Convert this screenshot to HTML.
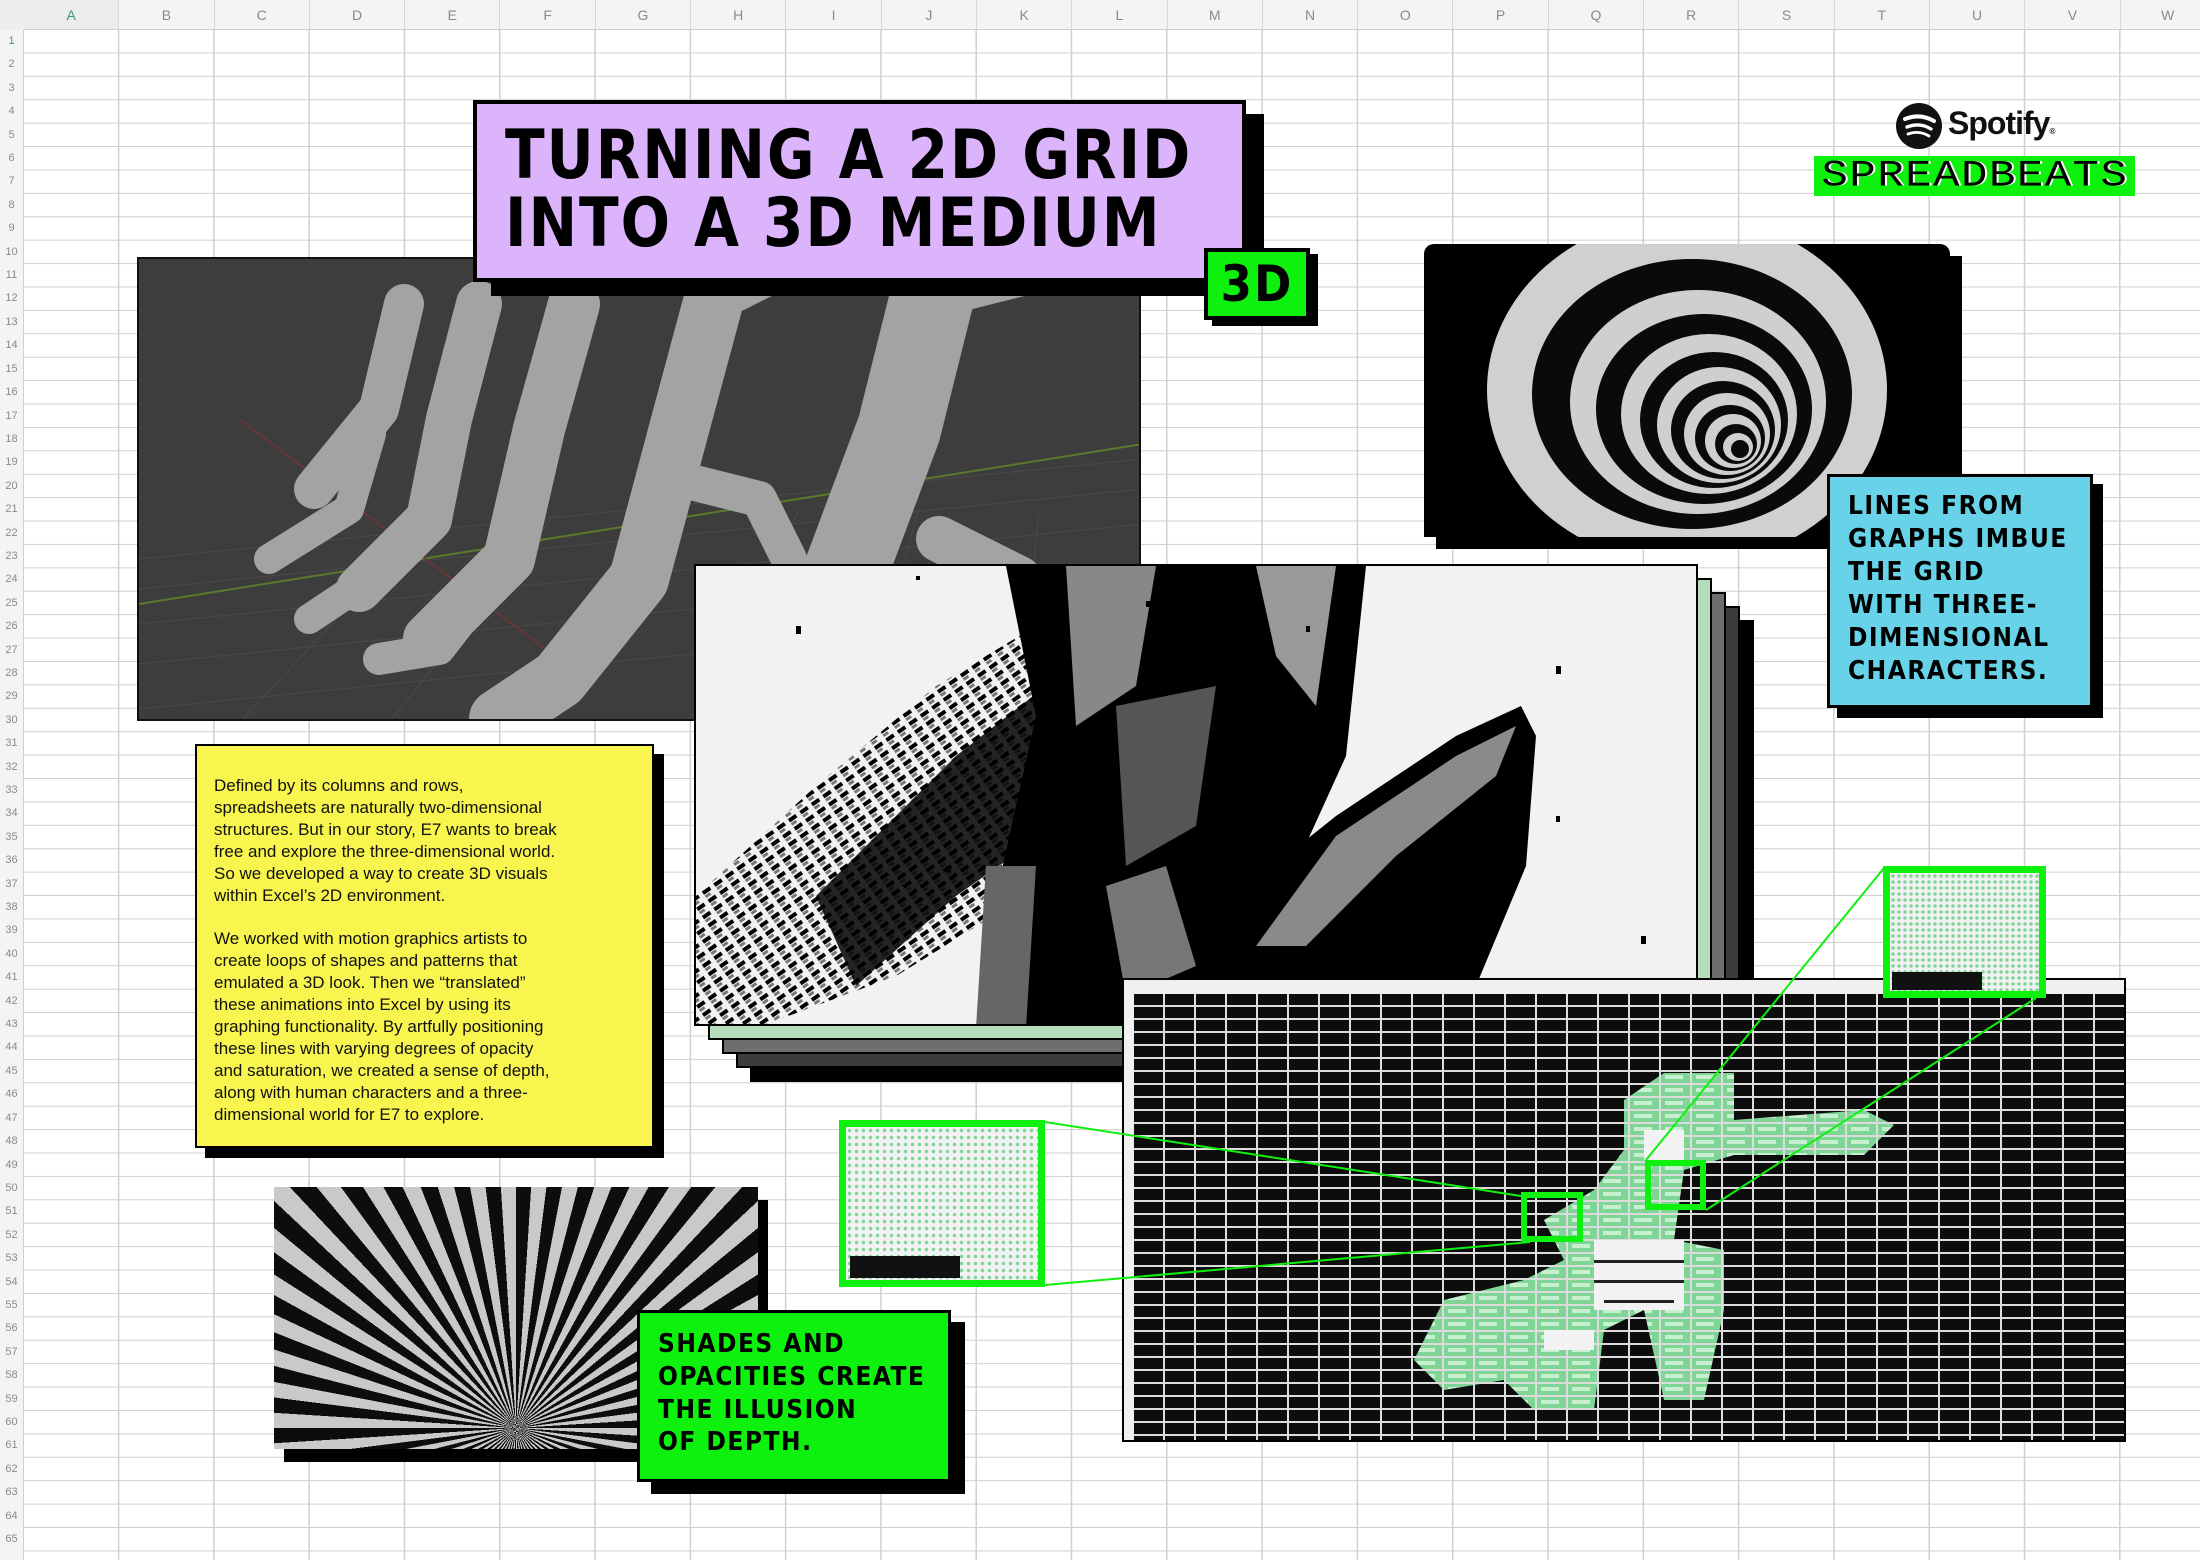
<!DOCTYPE html>
<html><head><meta charset="utf-8">
<style>
*{margin:0;padding:0;box-sizing:border-box}
body{width:2200px;height:1560px;position:relative;overflow:hidden;background:#fff;font-family:"Liberation Sans",sans-serif}
.grid{position:absolute;left:24px;top:30px;width:2176px;height:1530px;
background-image:linear-gradient(to right,transparent 94px,#cfcfcf 94px,#cfcfcf 95.3px),linear-gradient(to bottom,transparent 22.2px,#cfcfcf 22.2px,#cfcfcf 23.41px);
background-size:95.3px 23.41px}
.colhdr{position:absolute;left:0;top:0;width:2200px;height:30px;background:#f4f4f4;border-bottom:1px solid #cfcfcf;display:flex;padding-left:24px}
.colhdr span{width:95.3px;flex:none;text-align:center;font-size:14px;line-height:30px;color:#8a8a8a;border-right:1px solid #d8d8d8}
.rowhdr{position:absolute;left:0;top:30px;width:24px;height:1530px;background:#f4f4f4;border-right:1px solid #cfcfcf;font-size:11px;line-height:23.41px;color:#8a8a8a;text-align:center}
.corner{position:absolute;left:0;top:0;width:24px;height:30px;background:#eee}
.abs{position:absolute}
.pix{font-family:"DejaVu Sans Condensed","DejaVu Sans",sans-serif;font-weight:bold;color:#000}
</style></head><body>
<div class="grid"></div>
<div class="colhdr"><span style="color:#3a9a6a;background:#ececec">A</span><span>B</span><span>C</span><span>D</span><span>E</span><span>F</span><span>G</span><span>H</span><span>I</span><span>J</span><span>K</span><span>L</span><span>M</span><span>N</span><span>O</span><span>P</span><span>Q</span><span>R</span><span>S</span><span>T</span><span>U</span><span>V</span><span>W</span></div>
<div class="corner"></div>
<div class="rowhdr"><span style="color:#3a9a6a">1</span><br>2<br>3<br>4<br>5<br>6<br>7<br>8<br>9<br>10<br>11<br>12<br>13<br>14<br>15<br>16<br>17<br>18<br>19<br>20<br>21<br>22<br>23<br>24<br>25<br>26<br>27<br>28<br>29<br>30<br>31<br>32<br>33<br>34<br>35<br>36<br>37<br>38<br>39<br>40<br>41<br>42<br>43<br>44<br>45<br>46<br>47<br>48<br>49<br>50<br>51<br>52<br>53<br>54<br>55<br>56<br>57<br>58<br>59<br>60<br>61<br>62<br>63<br>64<br>65</div>

<!-- 3D render -->
<div class="abs" style="left:137px;top:257px;width:1004px;height:464px;background:#3d3d3d;border:2px solid #111;overflow:hidden">
<svg width="1004" height="464" viewBox="0 0 1004 464">
<g stroke="#4a4a4a" stroke-width="1">
<path d="M0 300 L1004 200 M0 330 L1004 230 M0 365 L1004 265 M0 405 L1004 305 M0 450 L1004 350"/>
<path d="M100 464 L300 250 M250 464 L420 250 M400 464 L540 250 M560 464 L660 250 M720 464 L780 250 M880 464 L900 250"/>
</g>
<line x1="0" y1="345" x2="1004" y2="185" stroke="#5a7a2a" stroke-width="2"/>
<line x1="100" y1="160" x2="420" y2="400" stroke="#7a3030" stroke-width="1.5"/>
<g stroke="#a3a3a3" stroke-linecap="round" stroke-linejoin="round" fill="none">
<polyline points="265,45 240,150 175,230" stroke-width="40"/>
<polyline points="232,175 210,250 130,300" stroke-width="30"/>
<polyline points="340,45 310,160 290,260 220,330" stroke-width="46"/>
<polyline points="290,260 230,320 170,360" stroke-width="30"/>
<polyline points="435,45 400,170 370,300 290,380" stroke-width="52"/>
<polyline points="370,300 300,390 240,400" stroke-width="32"/>
<polyline points="575,40 540,170 500,320 420,420 360,460" stroke-width="60"/>
<polyline points="540,220 620,240 650,300" stroke-width="36"/>
<polyline points="795,30 760,170 700,330 620,464" stroke-width="84"/>
<polyline points="800,280 880,320 870,420" stroke-width="46"/>
<polyline points="600,40 660,10 700,0" stroke-width="24"/>
<polyline points="820,40 900,20 950,10" stroke-width="26"/>
</g>
</svg></div>

<!-- title -->
<div class="abs" style="left:473px;top:100px;width:773px;height:182px;background:#dcb4fb;border:4px solid #000;box-shadow:18px 14px 0 #000"></div>
<div class="abs pix" style="left:505px;top:122px;font-size:68px;line-height:68px;letter-spacing:2px;white-space:nowrap;transform:scaleX(0.95);transform-origin:0 0">TURNING A 2D GRID<br>INTO A 3D MEDIUM</div>
<div class="abs pix" style="left:1204px;top:248px;width:106px;height:72px;background:#0ef00e;border:4px solid #000;box-shadow:8px 6px 0 #000;font-size:50px;line-height:64px;text-align:center;letter-spacing:2px">3D</div>

<!-- spotify -->
<svg class="abs" style="left:1895px;top:102px" width="48" height="48" viewBox="0 0 48 48"><circle cx="24" cy="24" r="23" fill="#111"/><g stroke="#fff" stroke-linecap="round" fill="none"><path d="M10 17 Q25 11 39 19" stroke-width="4"/><path d="M12 25 Q25 20 36 27" stroke-width="3.4"/><path d="M13 32 Q24 28 34 34" stroke-width="2.8"/></g></svg>
<div class="abs" style="left:1948px;top:105px;font-size:32px;font-weight:bold;letter-spacing:-1px;color:#111">Spotify<span style="font-size:8px">®</span></div>
<div class="abs" style="left:1814px;top:156px;width:321px;height:40px;background:#0ef00e"></div>
<div class="abs" style="left:1818px;top:152px;width:314px;font-family:'Liberation Mono',monospace;font-size:44px;line-height:48px;color:#000;letter-spacing:1.5px;text-align:center;transform:scaleY(0.85);text-shadow:2px 0 0 #fff">SPREADBEATS</div>

<!-- spiral -->
<div class="abs" style="left:1436px;top:256px;width:526px;height:293px;background:#000"></div>
<div class="abs" style="left:1424px;top:244px;width:526px;height:293px;background:#000;overflow:hidden;border-radius:10px 10px 0 0">
<svg width="526" height="293" viewBox="0 0 526 293">
<ellipse cx="263" cy="146" rx="200" ry="175" fill="#d0d0d0"/>
<ellipse cx="268" cy="150" rx="160" ry="135" fill="#0a0a0a"/>
<ellipse cx="274" cy="158" rx="128" ry="112" fill="#cfcfcf"/>
<ellipse cx="280" cy="165" rx="108" ry="95" fill="#0a0a0a"/>
<ellipse cx="285" cy="170" rx="88" ry="80" fill="#cfcfcf"/>
<ellipse cx="290" cy="176" rx="74" ry="68" fill="#0a0a0a"/>
<ellipse cx="295" cy="181" rx="62" ry="58" fill="#cfcfcf"/>
<ellipse cx="299" cy="186" rx="52" ry="49" fill="#0a0a0a"/>
<ellipse cx="303" cy="190" rx="43" ry="41" fill="#cfcfcf"/>
<ellipse cx="306" cy="194" rx="35" ry="33" fill="#0a0a0a"/>
<ellipse cx="309" cy="197" rx="28" ry="27" fill="#cfcfcf"/>
<ellipse cx="312" cy="200" rx="21" ry="20" fill="#0a0a0a"/>
<ellipse cx="314" cy="203" rx="15" ry="14" fill="#cfcfcf"/>
<ellipse cx="316" cy="205" rx="9" ry="9" fill="#0a0a0a"/>
</svg></div>

<!-- cyan box -->
<div class="abs" style="left:1827px;top:474px;width:266px;height:234px;background:#67d2e8;border:3px solid #000;box-shadow:10px 10px 0 #000"></div>
<div class="abs pix" style="left:1848px;top:490px;font-size:26px;line-height:33px;letter-spacing:1.5px;white-space:nowrap">LINES FROM<br>GRAPHS IMBUE<br>THE GRID<br>WITH THREE-<br>DIMENSIONAL<br>CHARACTERS.</div>

<!-- middle stack -->
<div class="abs" style="left:750px;top:620px;width:1004px;height:462px;background:#000"></div>
<div class="abs" style="left:736px;top:606px;width:1004px;height:462px;background:#3c3c3c;border:2px solid #000"></div>
<div class="abs" style="left:722px;top:592px;width:1004px;height:462px;background:#6e6e6e;border:2px solid #000"></div>
<div class="abs" style="left:708px;top:578px;width:1004px;height:462px;background:#b5dcb8;border:2px solid #000"></div>
<div class="abs" style="left:694px;top:564px;width:1004px;height:462px;background:#f2f2f2;border:2px solid #000;overflow:hidden">
<svg width="1004" height="462" viewBox="0 0 1004 462">
<defs><pattern id="hp" width="14" height="10" patternUnits="userSpaceOnUse" patternTransform="rotate(-35)"><rect width="9" height="4" fill="#000"/><rect y="5" width="6" height="3" fill="#777"/></pattern></defs>
<polygon points="0,330 120,220 240,120 340,60 400,200 330,330 200,410 60,462 0,462" fill="url(#hp)"/>
<polygon points="120,330 260,190 350,120 360,260 260,330 160,420" fill="#000" opacity="0.85"/>
<polygon points="310,0 670,0 650,190 600,300 540,462 280,462 300,330 340,150" fill="#000"/>
<polygon points="370,0 460,0 440,120 380,160" fill="#888"/>
<polygon points="420,140 520,120 500,260 430,300" fill="#555"/>
<polygon points="560,0 640,0 620,140 580,90" fill="#999"/>
<polygon points="500,462 540,330 640,250 760,170 825,140 840,170 830,300 780,420 740,462" fill="#000"/>
<polygon points="560,380 640,270 760,190 820,160 800,210 700,290 610,380" fill="#8a8a8a"/>
<polygon points="290,300 340,300 330,462 280,462" fill="#666"/>
<polygon points="410,320 470,300 500,400 430,430" fill="#777"/>
<g fill="#000"><rect x="100" y="60" width="5" height="8"/><rect x="220" y="10" width="4" height="4"/><rect x="250" y="300" width="5" height="6"/><rect x="450" y="35" width="5" height="6"/><rect x="560" y="60" width="4" height="5"/><rect x="860" y="100" width="5" height="8"/><rect x="945" y="370" width="5" height="8"/><rect x="400" y="350" width="4" height="5"/><rect x="860" y="250" width="4" height="6"/><rect x="610" y="60" width="4" height="6"/></g>
</svg></div>

<!-- yellow text -->
<div class="abs" style="left:195px;top:744px;width:459px;height:404px;background:#f8f54e;border:2px solid #000;box-shadow:10px 10px 0 #000"></div>
<div class="abs" style="left:214px;top:775px;font-size:17px;line-height:21.9px;color:#111;white-space:nowrap">Defined by its columns and rows,<br>spreadsheets are naturally two-dimensional<br>structures. But in our story, E7 wants to break<br>free and explore the three-dimensional world.<br>So we developed a way to create 3D visuals<br>within Excel’s 2D environment.<br><br>We worked with motion graphics artists to<br>create loops of shapes and patterns that<br>emulated a 3D look. Then we “translated”<br>these animations into Excel by using its<br>graphing functionality. By artfully positioning<br>these lines with varying degrees of opacity<br>and saturation, we created a sense of depth,<br>along with human characters and a three-<br>dimensional world for E7 to explore.</div>

<!-- tunnel -->
<div class="abs" style="left:284px;top:1200px;width:484px;height:262px;background:#000"></div>
<div class="abs" style="left:274px;top:1187px;width:484px;height:262px;background:repeating-conic-gradient(from 0deg at 50% 92%,#0d0d0d 0deg 3.6deg,#c9c9c9 3.6deg 7.2deg)"></div>

<!-- green box -->
<div class="abs" style="left:637px;top:1310px;width:314px;height:172px;background:#0ef00e;border:3px solid #000;box-shadow:14px 12px 0 #000"></div>
<div class="abs pix" style="left:658px;top:1328px;font-size:26px;line-height:32.8px;letter-spacing:1.5px;white-space:nowrap">SHADES AND<br>OPACITIES CREATE<br>THE ILLUSION<br>OF DEPTH.</div>

<!-- right spreadsheet -->
<div class="abs" style="left:1122px;top:978px;width:1004px;height:464px;background:#f0f0f0;border:2px solid #000;overflow:hidden">
<div class="abs" style="left:10px;top:14px;width:990px;height:446px;background-color:#0d0d0d;background-image:linear-gradient(to right,transparent 29px,#dcdcdc 29px),linear-gradient(to bottom,transparent 11px,#dcdcdc 11px);background-size:31px 13px"></div>
<svg class="abs" style="left:0;top:0" width="1004" height="464" viewBox="0 0 1004 464">
<defs><pattern id="gp" width="31" height="13" patternUnits="userSpaceOnUse" x="10" y="14"><rect width="29" height="11" fill="#7fd596"/><rect x="4" y="3" width="18" height="4" fill="#c9efd1"/></pattern></defs>
<g fill="url(#gp)">
<polygon points="540,93 610,93 610,140 740,130 770,145 740,175 610,175 560,190 550,260 600,270 600,330 580,420 540,420 520,330 480,350 470,430 410,430 380,400 320,410 290,380 320,320 400,300 440,280 420,240 470,210 500,170 500,120"/>
</g>
<g fill="#f2f2f2"><rect x="470" y="260" width="90" height="70"/><rect x="520" y="150" width="40" height="30"/><rect x="420" y="350" width="50" height="20"/></g>
<g fill="#222"><rect x="470" y="280" width="90" height="3"/><rect x="470" y="300" width="90" height="3"/><rect x="480" y="320" width="70" height="3"/></g>
</svg></div>

<!-- insets -->
<div class="abs" style="left:839px;top:1120px;width:206px;height:167px;border:7px solid #0ef00e;background:#f2f2f2;background-image:radial-gradient(circle,#7fd596 1.5px,transparent 2px);background-size:7px 7px"></div>
<div class="abs" style="left:850px;top:1256px;width:110px;height:22px;background:#111"></div>
<div class="abs" style="left:1883px;top:866px;width:163px;height:132px;border:7px solid #0ef00e;background:#f2f2f2;background-image:radial-gradient(circle,#7fd596 1.5px,transparent 2px);background-size:6px 6px"></div>
<div class="abs" style="left:1892px;top:972px;width:90px;height:18px;background:#111"></div>
<div class="abs" style="left:1521px;top:1192px;width:62px;height:50px;border:6px solid #0ef00e"></div>
<div class="abs" style="left:1645px;top:1160px;width:61px;height:50px;border:6px solid #0ef00e"></div>
<svg class="abs" style="left:0;top:0" width="2200" height="1560"><g stroke="#0ef00e" stroke-width="2"><line x1="1045" y1="1122" x2="1521" y2="1196"/><line x1="1045" y1="1285" x2="1530" y2="1242"/><line x1="1646" y1="1160" x2="1884" y2="868"/><line x1="1706" y1="1210" x2="2036" y2="998"/></g></svg>
</body></html>
